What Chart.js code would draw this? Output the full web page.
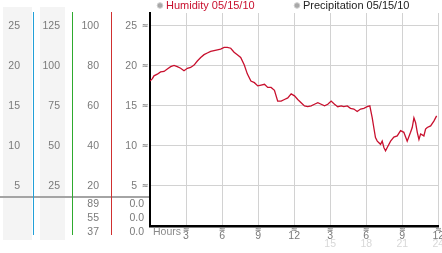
<!DOCTYPE html>
<html><head><meta charset="utf-8">
<script src="https://cdn.jsdelivr.net/npm/chart.js@4"></script>
<style>html,body{margin:0;padding:0;background:#fff;overflow:hidden}canvas{display:block}</style>
</head><body>
<canvas id="c" width="442" height="253"></canvas>
<script>
const hours = [0,0.2,0.33,0.61,0.88,1.17,1.44,1.72,2.0,2.27,
  2.55,2.83,3.11,3.38,3.67,3.94,4.22,4.5,4.77,5.05,
  5.33,5.61,5.88,6.17,6.44,6.72,7.0,7.27,7.55,7.85,
  8.1,8.4,8.69,8.97,9.25,9.53,9.8,10.08,10.36,10.63,
  10.92,11.19,11.47,11.75,12.03,12.3,12.58,12.86,13.13,13.42,
  13.69,13.97,14.25,14.53,14.8,15.08,15.36,15.63,15.92,16.13,
  16.42,16.69,16.97,17.25,17.53,17.8,18.08,18.3,18.5,18.63,
  18.77,18.92,19.19,19.33,19.47,19.61,19.75,20.03,20.3,20.58,
  20.86,21.13,21.41,21.69,21.83,21.97,22.11,22.25,22.39,22.53,
  22.8,22.94,23.08,23.36,23.63,23.86];
const humidity = [18.1,18.4,18.75,18.96,19.25,19.3,19.6,19.9,20.05,19.9,
  19.7,19.4,19.7,19.8,20.1,20.6,21.05,21.4,21.6,21.8,
  21.9,22.0,22.1,22.3,22.3,22.2,21.7,21.4,21.05,20.1,
  19.0,18.1,17.9,17.5,17.6,17.7,17.3,17.3,16.95,15.6,
  15.6,15.8,16.0,16.5,16.25,15.8,15.4,15.0,14.9,15.0,
  15.2,15.4,15.2,15.0,15.2,15.6,15.2,14.9,15.0,14.9,
  15.0,14.7,14.6,14.3,14.6,14.7,14.9,15.0,13.5,12.3,
  11.05,10.6,10.2,10.6,9.8,9.4,9.8,10.6,11.1,11.25,
  11.9,11.7,10.6,11.7,12.3,13.5,12.9,11.7,10.8,11.5,
  11.25,12.1,12.3,12.5,13.1,13.75];
const precipitation = [];
const seriesLabels = ['Humidity 05/15/10','Precipitation 05/15/10'];
const yTicks = [25,20,15,10,5];
const colALabels = ['25','20','15','10','5'];
const colBLabels = ['125','100','75','50','25'];
const colCLabels = ['100','80','60','40','20'];
const colDLabels = ['25','20','15','10','5'];
const rowCLabels = ['89','55','37'];
const rowDLabels = ['0.0','0.0','0.0'];
const xTicks = [3,6,9,12,15,18,21,24];
const xLabels = ['3','6','9','12','3','6','9','12'];
const xLabels2 = ['','','','','15','18','21','24'];
const xTitle = 'Hours';

const RED = '#c8102e';
const LABEL = '#7a7a7a';
const FONT = "10.5px 'Liberation Sans', Arial, sans-serif";

const deco = {
  id: 'deco',
  beforeDraw(chart) {
    const ctx = chart.ctx;
    ctx.save();
    ctx.fillStyle = '#fff';
    ctx.fillRect(0, 0, chart.width, chart.height);
    ctx.fillStyle = '#f4f4f4';
    ctx.fillRect(3, 7, 29, 233);
    ctx.fillRect(40, 7, 25, 233);
    ctx.fillStyle = '#a4a4a4';
    ctx.fillRect(0, 196, 149, 2);
    ctx.fillStyle = '#22a0d8'; ctx.fillRect(33, 12, 1, 223);
    ctx.fillStyle = '#2eaa2e'; ctx.fillRect(72, 12, 1, 223);
    ctx.fillStyle = '#d03030'; ctx.fillRect(111, 12, 1, 223);
    ctx.restore();
  },
  afterDraw(chart) {
    const ctx = chart.ctx;
    const ys = chart.scales.y, xs = chart.scales.x;
    ctx.save();
    ctx.font = FONT;
    ctx.textBaseline = 'middle';
    ctx.textAlign = 'right';
    ctx.fillStyle = LABEL;
    yTicks.forEach((v, i) => {
      const py = ys.getPixelForValue(v);
      ctx.fillText(colALabels[i], 20, py);
      ctx.fillText(colBLabels[i], 60, py);
      ctx.fillText(colCLabels[i], 99, py);
      ctx.fillText(colDLabels[i], 137, py);
    });
    const rowY = [204.5, 218.5, 232.5];
    rowCLabels.forEach((t, i) => {
      ctx.fillText(t, 99, rowY[i]);
      ctx.fillText(rowDLabels[i], 144, rowY[i]);
    });
    ctx.font = "bold 8px 'DejaVu Sans', sans-serif";
    ctx.fillStyle = '#8c8c8c';
    ctx.textAlign = 'center';
    yTicks.forEach(v => ctx.fillText('≈', 145, ys.getPixelForValue(v)));
    xTicks.forEach(v => ctx.fillText('≈', xs.getPixelForValue(v), 229.5));
    ctx.font = FONT;
    xTicks.forEach((v, i) => {
      const px = xs.getPixelForValue(v);
      ctx.fillStyle = LABEL;
      ctx.fillText(xLabels[i], px, 236);
      if (xLabels2[i]) {
        ctx.fillStyle = '#d8d8d8';
        ctx.fillText(xLabels2[i], px, 244.5);
      }
    });
    ctx.textAlign = 'left';
    ctx.fillStyle = '#8a8a8a';
    ctx.fillText(xTitle, 153, 232);
    const leg = [{x: 160, color: RED}, {x: 297, color: '#222'}];
    ctx.font = "11px 'Liberation Sans', Arial, sans-serif";
    chart.data.datasets.forEach((ds, i) => {
      const L = leg[i];
      ctx.beginPath();
      ctx.arc(L.x, 5.5, 2.8, 0, Math.PI * 2);
      ctx.fillStyle = '#a8a8a8';
      ctx.fill();
      ctx.strokeStyle = '#d0d0d0';
      ctx.lineWidth = 1;
      ctx.stroke();
      ctx.fillStyle = L.color;
      ctx.textAlign = 'left';
      ctx.fillText(ds.label, L.x + 6, 6);
    });
    ctx.restore();
  }
};

new Chart(document.getElementById('c'), {
  type: 'line',
  data: {
    datasets: [
      { label: seriesLabels[0], data: hours.map((h, i) => ({x: h, y: humidity[i]})),
        borderColor: RED, borderWidth: 1.3, pointRadius: 0, tension: 0, fill: false },
      { label: seriesLabels[1], data: precipitation.map(p => p),
        borderColor: '#222', borderWidth: 1, pointRadius: 0 }
    ]
  },
  options: {
    responsive: false,
    animation: false,
    devicePixelRatio: 1,
    layout: { padding: { left: 150, top: 13, right: 3.7, bottom: 27 } },
    plugins: { legend: { display: false }, tooltip: { enabled: false } },
    scales: {
      x: {
        type: 'linear', min: 0, max: 24,
        afterBuildTicks: s => { s.ticks = xTicks.map(v => ({value: v})); },
        ticks: { display: false },
        grid: { color: '#d2d2d2', lineWidth: 1, drawTicks: false },
        border: { display: true, color: '#000', width: 2.5 }
      },
      y: {
        type: 'linear', min: 0, max: 26.6,
        afterBuildTicks: s => { s.ticks = yTicks.map(v => ({value: v})); },
        ticks: { display: false },
        grid: { color: '#d2d2d2', lineWidth: 1, drawTicks: false },
        border: { display: true, color: '#000', width: 2 }
      }
    }
  },
  plugins: [deco]
});
</script>
</body></html>
